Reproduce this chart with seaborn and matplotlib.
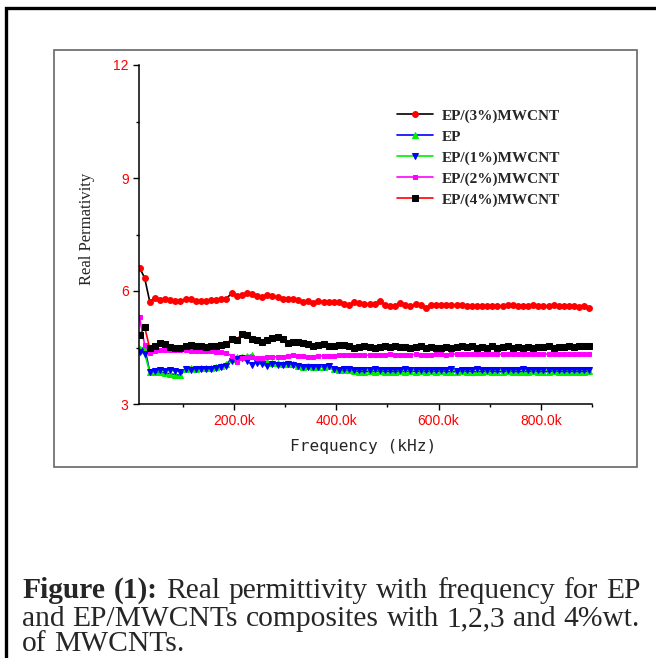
import numpy as np
import matplotlib
matplotlib.use("Agg")
import matplotlib.pyplot as plt
from matplotlib.patches import Rectangle
import seaborn as sns

# frequency grid (kHz) and real permittivity
freq = np.arange(15, 900, 10)

ep3 = [6.62, 6.35, 5.72, 5.82, 5.75, 5.78, 5.76, 5.74, 5.73, 5.78,
       5.78, 5.74, 5.73, 5.74, 5.76, 5.75, 5.78, 5.80, 5.94, 5.88,
       5.90, 5.94, 5.92, 5.88, 5.83, 5.90, 5.87, 5.83, 5.78, 5.80,
       5.80, 5.77, 5.70, 5.74, 5.67, 5.74, 5.70, 5.72, 5.71, 5.70,
       5.66, 5.64, 5.70, 5.68, 5.66, 5.65, 5.66, 5.74, 5.62, 5.61,
       5.61, 5.67, 5.63, 5.60, 5.66, 5.64, 5.56, 5.62, 5.62, 5.62,
       5.64, 5.63, 5.62, 5.62, 5.60, 5.61, 5.60, 5.59, 5.61, 5.60,
       5.59, 5.60, 5.63, 5.62, 5.61, 5.60, 5.61, 5.62, 5.60, 5.59,
       5.61, 5.62, 5.60, 5.59, 5.61, 5.59, 5.58, 5.59, 5.56]

ep = [4.45, 4.50, 3.86, 3.85, 3.84, 3.82, 3.80, 3.78, 3.76, 3.93,
      3.95, 3.94, 3.95, 3.96, 3.95, 3.97, 4.00, 4.06, 4.20, 4.26,
      4.24, 4.27, 4.30, 4.18, 4.15, 4.12, 4.08, 4.08, 4.06, 4.07,
      4.05, 4.02, 3.99, 4.00, 3.98, 3.97, 3.99, 4.01, 3.93, 3.90,
      3.90, 3.89, 3.88, 3.86, 3.85, 3.87, 3.86, 3.88, 3.86, 3.86,
      3.85, 3.87, 3.86, 3.88, 3.86, 3.87, 3.85, 3.87, 3.86, 3.87,
      3.86, 3.85, 3.86, 3.87, 3.86, 3.86, 3.85, 3.86, 3.87, 3.86,
      3.85, 3.86, 3.87, 3.86, 3.85, 3.86, 3.86, 3.87, 3.86, 3.85,
      3.86, 3.87, 3.86, 3.85, 3.86, 3.86, 3.85, 3.86, 3.87]

ep1 = [4.38, 4.33, 3.86, 3.88, 3.89, 3.88, 3.89, 3.88, 3.86, 3.92,
       3.90, 3.92, 3.93, 3.92, 3.94, 3.95, 3.97, 4.00, 4.15, 4.20,
       4.22, 4.14, 4.04, 4.10, 4.05, 4.00, 4.05, 4.03, 4.04, 4.07,
       4.04, 4.02, 3.97, 3.98, 3.97, 3.99, 3.98, 4.00, 3.93, 3.91,
       3.92, 3.94, 3.91, 3.90, 3.91, 3.89, 3.92, 3.90, 3.91, 3.91,
       3.89, 3.91, 3.92, 3.90, 3.91, 3.89, 3.91, 3.90, 3.91, 3.89,
       3.91, 3.92, 3.88, 3.91, 3.90, 3.91, 3.92, 3.90, 3.91, 3.89,
       3.91, 3.90, 3.91, 3.89, 3.91, 3.92, 3.89, 3.91, 3.90, 3.91,
       3.89, 3.91, 3.90, 3.91, 3.89, 3.91, 3.90, 3.91, 3.90]

ep2 = [5.30, 4.57, 4.36, 4.42, 4.44, 4.43, 4.43, 4.44, 4.43, 4.43,
       4.42, 4.42, 4.41, 4.40, 4.40, 4.39, 4.38, 4.35, 4.28, 4.12,
       4.22, 4.26, 4.24, 4.22, 4.23, 4.24, 4.24, 4.26, 4.26, 4.28,
       4.29, 4.28, 4.27, 4.26, 4.24, 4.27, 4.28, 4.28, 4.28, 4.29,
       4.29, 4.30, 4.29, 4.30, 4.30, 4.30, 4.31, 4.30, 4.31, 4.32,
       4.31, 4.31, 4.31, 4.31, 4.32, 4.31, 4.31, 4.31, 4.32, 4.32,
       4.31, 4.33, 4.32, 4.34, 4.32, 4.32, 4.32, 4.33, 4.32, 4.32,
       4.32, 4.32, 4.32, 4.33, 4.32, 4.33, 4.32, 4.32, 4.33, 4.32,
       4.33, 4.32, 4.33, 4.33, 4.32, 4.32, 4.33, 4.32, 4.32]

ep4 = [4.83, 5.05, 4.48, 4.55, 4.63, 4.58, 4.52, 4.48, 4.50, 4.54,
       4.56, 4.55, 4.53, 4.52, 4.54, 4.55, 4.56, 4.60, 4.72, 4.70,
       4.86, 4.84, 4.72, 4.69, 4.64, 4.70, 4.74, 4.78, 4.72, 4.61,
       4.65, 4.64, 4.62, 4.60, 4.55, 4.57, 4.59, 4.55, 4.55, 4.57,
       4.57, 4.54, 4.50, 4.52, 4.55, 4.52, 4.50, 4.52, 4.55, 4.52,
       4.54, 4.52, 4.52, 4.50, 4.52, 4.53, 4.50, 4.52, 4.48, 4.50,
       4.52, 4.50, 4.52, 4.54, 4.52, 4.55, 4.50, 4.52, 4.49, 4.53,
       4.50, 4.52, 4.55, 4.50, 4.52, 4.48, 4.52, 4.50, 4.52, 4.51,
       4.53, 4.50, 4.52, 4.52, 4.53, 4.52, 4.53, 4.54, 4.54]

labels = ["EP/(3%)MWCNT", "EP", "EP/(1%)MWCNT", "EP/(2%)MWCNT", "EP/(4%)MWCNT"]
x_ticks = [200, 400, 600, 800]
x_ticklabels = ["200.0k", "400.0k", "600.0k", "800.0k"]
y_ticks = [3, 6, 9, 12]

sns.set_style("white")
plt.rcParams["font.family"] = ["Liberation Sans", "DejaVu Sans"]

fig = plt.figure(figsize=(6.56, 6.58), dpi=100)
W, H = 656, 658

def fx(px):
    return px / W

def fy(py):
    return 1 - py / H

# outer frame (thick) and inner frame (thin gray)
fig.patches.append(Rectangle((fx(6), -0.2), 1.5, fy(8) + 0.2, transform=fig.transFigure,
                             fill=False, edgecolor="black", linewidth=2.4))
fig.patches.append(Rectangle((fx(54), fy(467)), fx(637) - fx(54), fy(50) - fy(467),
                             transform=fig.transFigure, fill=False,
                             edgecolor="#666666", linewidth=1.2))

ax = fig.add_axes([fx(139), fy(404), fx(592) - fx(139), fy(65) - fy(404)])
ax.set_facecolor("none")

# (values, line colour, marker, marker colour, marker size)
styles = [
    (ep3, "black", "o", "red", 4.2),
    (ep, "blue", "^", "#00ee00", 4.2),
    (ep1, "#00ee00", "v", "blue", 4.2),
    (ep2, "magenta", "s", "magenta", 2.2),
    (ep4, "red", "s", "black", 4.0),
]
for (vals, lc, mk, mc, ms), lab in zip(styles, labels):
    sns.lineplot(x=freq, y=vals, ax=ax, color=lc, marker=mk, markersize=ms,
                 markerfacecolor=mc, markeredgecolor=mc, linewidth=1.2,
                 label=lab, sort=False, clip_on=True)

ax.set_xlim(14, 900)
ax.set_ylim(3, 12)
ax.set_xticks(x_ticks)
ax.set_xticklabels(x_ticklabels)
ax.set_xticks([100, 300, 500, 700, 900], minor=True)
ax.set_yticks(y_ticks)
ax.set_yticks([4.5, 7.5, 10.5], minor=True)
ax.set_xlabel("")
ax.set_ylabel("")
for s in ["top", "right"]:
    ax.spines[s].set_visible(False)
for s in ["left", "bottom"]:
    ax.spines[s].set_linewidth(1.1)
    ax.spines[s].set_color("black")
ax.tick_params(which="major", direction="out", length=4.5, width=1.0,
               colors="black", labelcolor="red", labelsize=10, pad=3)
ax.tick_params(which="minor", direction="out", length=2.3, width=1.0, colors="black")
ax.tick_params(axis="both", which="both", bottom=True, left=True)

fig.text(fx(87), fy(229), "Real Permativity", rotation=90, ha="center", va="center",
         fontsize=12, family=["Liberation Serif"])
fig.text(fx(363), fy(447), "Frequency (kHz)", ha="center", va="center",
         fontsize=11.6, family=["DejaVu Sans Mono"])

handles, labs = ax.get_legend_handles_labels()
ax.legend(handles, labs, loc="upper left", bbox_to_anchor=(fx(397), fy(109)),
          bbox_transform=fig.transFigure, frameon=False, borderpad=0,
          borderaxespad=0, handlelength=2.35, handletextpad=0.55,
          labelspacing=0.47, prop={"family": "Liberation Serif", "weight": "bold", "size": 11})

# caption, justified between x=22 and x=640
renderer = fig.canvas.get_renderer()
serif = ["Liberation Serif"]
lines = [
    [("Figure", "bold"), ("(1):", "bold"), ("Real", "normal"), ("permittivity", "normal"),
     ("with", "normal"), ("frequency", "normal"), ("for", "normal"), ("EP", "normal")],
    [(w, "normal") for w in "and EP/MWCNTs composites with 1,2,3 and 4%wt.".split()],
    [(w, "normal") for w in "of MWCNTs.".split()],
]
left, right = 22, 640

def width_of(s, size, wt="normal"):
    t = fig.text(0, 0, s, fontsize=size, fontweight=wt, family=serif)
    w = t.get_window_extent(renderer).width
    t.remove()
    return w

# pick a size so the first line nearly fills the box with plain spaces
probe = 10
natural = width_of("Figure (1):", probe, "bold") + width_of(" Real permittivity with frequency for EP", probe)
cap_size = probe * (right - left - 4) / natural
space = width_of("a a", cap_size) - width_of("aa", cap_size)

baselines = [598, 626, 651]
for k, (words, base) in enumerate(zip(lines, baselines)):
    items = [fig.text(0, fy(base), w, fontsize=cap_size, fontweight=wt, family=serif,
                      va="baseline", ha="left") for w, wt in words]
    widths = [t.get_window_extent(renderer).width for t in items]
    if k < 2:
        gap = (right - left - sum(widths)) / (len(items) - 1)
    else:
        gap = space
    xpos = left
    for t, wd in zip(items, widths):
        t.set_x(fx(xpos))
        xpos += wd + gap

fig.savefig("out.png", dpi=100)
